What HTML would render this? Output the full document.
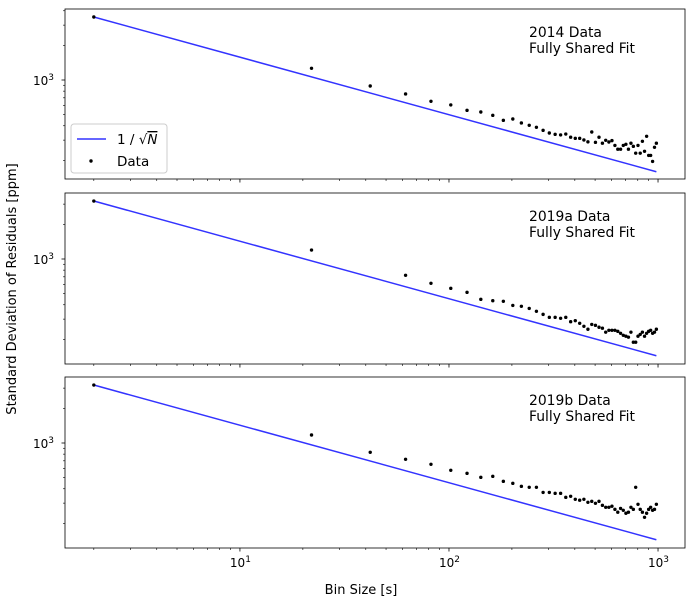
<!DOCTYPE html>
<html><head><meta charset="utf-8"><style>
body{margin:0;background:#fff;}
svg{font-family:"DejaVu Sans","Liberation Sans",sans-serif;}
</style></head><body>
<svg id="c" width="694" height="606" xmlns="http://www.w3.org/2000/svg"></svg>
<script>
const binSizes = [];
for (let k = 0; k < 50; k++) binSizes.push(2 + 20 * k);
const titles = ["2014 Data", "2019a Data", "2019b Data"];
const data2014 = [3530,1264,887,756,653,607,545,527,493,446,458,423,404,388,365,346,337,333,339,318,311,311,301,290,353,287,318,282,299,289,297,270,250,250,270,276,250,282,265,231,270,231,293,240,324,221,221,196,260,282];
const data2019a = [3193,1197,null,722,615,556,513,446,434,429,395,388,372,351,330,311,311,305,311,285,291,276,260,245,270,265,255,250,231,240,240,240,235,226,217,213,209,231,189,189,213,221,231,213,226,235,240,226,231,245];
const data2019b = [3193,1174,830,722,653,579,545,503,513,464,446,420,412,412,372,372,365,365,337,344,324,318,324,305,311,299,311,287,276,276,282,265,250,270,260,245,250,276,265,412,293,265,250,226,245,265,276,260,265,293];
const series = [data2014, data2019a, data2019b];
const yTickExps = ["3"];
const xTickExps = ["1", "2", "3"];

const NS = "http://www.w3.org/2000/svg";
const svg = document.getElementById("c");
function el(tag, attrs, parent) {
  const e = document.createElementNS(NS, tag);
  for (const k in attrs) e.setAttribute(k, attrs[k]);
  (parent || svg).appendChild(e);
  return e;
}
function powLabel(t, exp) {
  const a = el("tspan", {}, t); a.textContent = "10";
  const b = el("tspan", {"font-size": 9, dy: -5}, t); b.textContent = exp;
}
const L = 65, R = 685;
const xMin = Math.log10(1.456), xMax = Math.log10(1346);
function xs(v) { return L + (Math.log10(v) - xMin) / (xMax - xMin) * (R - L); }
const panels = [{top: 9, bot: 179, p0: 80}, {top: 193, bot: 364, p0: 259}, {top: 377, bot: 548, p0: 443}];

panels.forEach((p, i) => {
  const ys = v => p.p0 - (Math.log10(v) - 3) * 115;
  const g = el("g", {});
  
  
  const ymin = Math.pow(10, 3 - (p.bot - p.p0) / 115), ymax = Math.pow(10, 3 + (p.p0 - p.top) / 115);
  for (let e = 2; e <= 3; e++) for (let m = 1; m <= 9; m++) {
    const v = m * Math.pow(10, e);
    if (v < ymin || v > ymax) continue;
    const y = ys(v);
    el("line", {x1: L, x2: L - (m === 1 ? 3.5 : 2), y1: y, y2: y, stroke: "#000", "stroke-width": m === 1 ? 0.8 : 0.6}, g);
    if (m === 1 && e === 3) {
      const t = el("text", {x: 33, y: y + 5, "font-size": 12}, g);
      powLabel(t, yTickExps[0]);
      
      
    }
  }
  for (let e = 0; e <= 3; e++) for (let m = 1; m <= 9; m++) {
    const v = m * Math.pow(10, e);
    const x = xs(v);
    if (x < L || x > R) continue;
    el("line", {x1: x, x2: x, y1: p.bot, y2: p.bot + (m === 1 ? 3.5 : 2), stroke: "#000", "stroke-width": m === 1 ? 0.8 : 0.6}, g);
    if (m === 1 && i === 2) {
      const t = el("text", {x: x - 10, y: p.bot + 19, "font-size": 12}, g);
      powLabel(t, xTickExps[e - 1]);
      
      
    }
  }
  const d = series[i];
  const A = d[0];
  const lx = [binSizes[0], 982];
  const ln = el("polyline", {points: lx.map(x => xs(x) + "," + ys(A / Math.sqrt(x / binSizes[0]))).join(" "), fill: "none", stroke: "#3333ff", "stroke-width": 1.5}, g);
  
  
  d.forEach((v, k) => {
    if (v == null) return;
    const c = el("circle", {cx: xs(binSizes[k]), cy: ys(v), r: 1.7, fill: "#000"}, g);
    
    
  });
  const f = el("rect", {x: L, y: p.top, width: R - L, height: p.bot - p.top, fill: "none", stroke: "#000", "stroke-width": 0.8}, g);
  
  
  const t1 = el("text", {x: 529, y: p.top + 28, "font-size": 13.9}, g);
  t1.textContent = titles[i];
  
  
  const t2 = el("text", {x: 529, y: p.top + 44, "font-size": 13.9}, g);
  t2.textContent = "Fully Shared Fit";
  
  
});
</script>
<svg width="694" height="606" style="position:absolute;left:0;top:0" xmlns="http://www.w3.org/2000/svg">
  <g>
    <rect x="71" y="124" width="96" height="49" rx="3" fill="#fff" fill-opacity="0.8" stroke="#ccc" stroke-width="1"/>
    <line x1="77" y1="139" x2="106" y2="139" stroke="#3333ff" stroke-width="1.5"/>
    <text x="117" y="144" font-size="13.5">1 / √<tspan text-decoration="overline" font-style="italic">N</tspan></text>
    <circle cx="91" cy="161" r="1.7" fill="#000"/>
    <text x="117" y="166" font-size="13.5">Data</text>
  </g>
  <text x="361" y="594" font-size="13" text-anchor="middle">Bin Size [s]</text>
  <text transform="translate(16,289) rotate(-90)" font-size="13" text-anchor="middle">Standard Deviation of Residuals [ppm]</text>
</svg>
</body></html>
